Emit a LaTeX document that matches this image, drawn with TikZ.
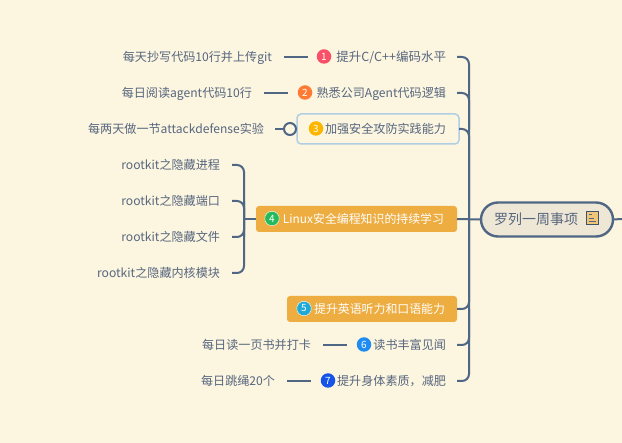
\documentclass[tikz,border=0pt]{standalone}
\usepackage{fontspec}
\setmainfont{Noto Sans CJK SC}
\definecolor{pagebg}{HTML}{FCF5E0}
\definecolor{inkblue}{HTML}{56667E}
\definecolor{linkblue}{HTML}{4F6785}
\definecolor{boxorange}{HTML}{EDAD40}
\definecolor{mainfill}{HTML}{EFE7D6}
\definecolor{frameblue}{HTML}{B0CFE4}
\definecolor{badgeone}{HTML}{F9506A}
\definecolor{badgetwo}{HTML}{FF7A33}
\definecolor{badgethree}{HTML}{FDB600}
\definecolor{badgefour}{HTML}{25BB5C}
\definecolor{badgefive}{HTML}{1EAAD8}
\definecolor{badgesix}{HTML}{1E8CF0}
\definecolor{badgeseven}{HTML}{1455E8}
\tikzset{
    leaf/.style={anchor=east,inner xsep=12pt,inner ysep=0pt,outer sep=0pt,minimum height=18pt,
        text height=10.5pt,text depth=1.5pt,text=inkblue,font=\fontsize{12.1}{15}\selectfont},
    topic/.style={leaf,inner xsep=11pt,align=right},
    filled/.style={topic,fill=boxorange,rounded corners=3pt,minimum height=26pt,text=white},
    badge/.style={circle,inner sep=0pt,outer sep=0pt,minimum size=14.5pt,text=white,
        font=\fontsize{10}{12}\selectfont},
    link/.style={draw=linkblue,line width=2pt,rounded corners=7pt},
}
\begin{document}
\begin{tikzpicture}[x=1pt,y=-1pt]
    \useasboundingbox (0,0) rectangle (622,443);
    \fill[pagebg] (0,0) rectangle (622,443);

    % central topic
    \node[draw=linkblue,line width=2.4pt,fill=mainfill,rounded corners=17pt,
        minimum height=34pt,inner xsep=13pt,inner ysep=0pt,outer sep=0pt,text width=106pt,
        align=left,text=inkblue,font=\fontsize{14}{16}\selectfont]
        (main) at (547,219.5) {罗列一周事项};
    \coordinate (rightEnd) at (622,219);
    \draw[draw=linkblue,line width=2pt] (main.east) -- (rightEnd);
    \draw[draw=linkblue!80!black,line width=1pt,fill=boxorange!70!white]
        (586,211.5) rectangle (598,225);
    \draw[draw=inkblue,line width=1pt] (588.5,215) -- (592,215);
    \draw[draw=inkblue,line width=1pt] (588.5,218.5) -- (594,218.5);
    \draw[draw=inkblue,line width=1pt] (588.5,222) -- (596,222);

    % topics
    \node[topic,text width=127pt,font=\fontsize{12.5}{15}\selectfont] (topicA) at (457,57) {提升C/C++编码水平};
    \node[topic,text width=147pt] (topicB) at (457,93) {熟悉公司Agent代码逻辑};
    \node[topic,draw=frameblue,line width=1.5pt,fill=pagebg,rounded corners=4pt,
        minimum height=30pt,inner xsep=13pt,text width=136pt] (topicC) at (459,129) {加强安全攻防实践能力};
    \node[filled,inner xsep=13pt,text width=175pt,font=\fontsize{11.9}{15}\selectfont] (topicD) at (457,219) {Linux安全编程知识的持续学习};
    \node[filled,inner xsep=12pt,text width=146pt,font=\fontsize{11.9}{15}\selectfont] (topicE) at (457,309) {提升英语听力和口语能力};
    \node[topic,text width=88pt] (topicF) at (457,345) {读书丰富见闻};
    \node[topic,text width=124pt] (topicG) at (457,381) {提升身体素质，减肥};

    % badges
    \node[badge,fill=badgeone] (badgeA) at (324,56.5) {1};
    \node[badge,fill=badgetwo] (badgeB) at (305,92.5) {2};
    \node[badge,fill=badgethree] (badgeC) at (316,128.5) {3};
    \node[badge,draw=white,fill=badgefour] (badgeD) at (272,218.5) {4};
    \node[badge,draw=white,fill=badgefive] (badgeE) at (304,308.5) {5};
    \node[badge,fill=badgesix] (badgeF) at (364,344.5) {6};
    \node[badge,fill=badgeseven] (badgeG) at (328,380.5) {7};

    % leaves
    \node[leaf] (leafA) at (284,57) {每天抄写代码10行并上传git};
    \node[leaf] (leafB) at (264,93) {每日阅读agent代码10行};
    \node[leaf,inner xsep=11pt] (leafC) at (275,129) {每两天做一节attackdefense实验};
    \node[leaf] (leafD) at (232,165) {rootkit之隐藏进程};
    \node[leaf] (leafE) at (232,201) {rootkit之隐藏端口};
    \node[leaf] (leafF) at (232,237) {rootkit之隐藏文件};
    \node[leaf] (leafG) at (232,273) {rootkit之隐藏内核模块};
    \node[leaf] (leafH) at (323,345) {每日读一页书并打卡};
    \node[leaf] (leafI) at (287,381) {每日跳绳20个};

    % right spine
    \coordinate (spineA) at (469,57);
    \coordinate (spineB) at (469,93);
    \coordinate (spineC) at (469,129);
    \coordinate (spineD) at (469,219);
    \coordinate (spineE) at (469,309);
    \coordinate (spineF) at (469,345);
    \coordinate (spineG) at (469,381);
    \draw[link] (topicA.east) -- (spineA) -- (spineG) -- (topicG.east);
    \draw[link] (topicB.east) -- (spineB) -- (spineC);
    \draw[link] (topicC.east) -- (spineC) -- (spineD);
    \draw[link] (topicE.east) -- (spineE) -- (spineD);
    \draw[link] (topicF.east) -- (spineF) -- (spineE);
    \draw[link] (main.west) -- (topicD.east);

    % left bracket
    \coordinate (braceD) at (244,165);
    \coordinate (braceE) at (244,201);
    \coordinate (braceM) at (244,219);
    \coordinate (braceF) at (244,237);
    \coordinate (braceG) at (244,273);
    \draw[link] (leafD.east) -- (braceD) -- (braceG) -- (leafG.east);
    \draw[link] (leafE.east) -- (braceE) -- (braceF);
    \draw[link] (leafF.east) -- (braceF) -- (braceE);
    \draw[link] (topicD.west) -- (braceM);

    % leaf links
    \draw[link] (leafA.east) -- (topicA.west);
    \draw[link] (leafB.east) -- (topicB.west);
    \node[circle,draw=linkblue,line width=2pt,fill=pagebg,inner sep=0pt,outer sep=0pt,minimum size=12pt]
        (foldC) at (290,129) {};
    \draw[link] (leafC.east) -- (foldC.west);
    \draw[link] (foldC.east) -- (topicC.west);
    \draw[link] (leafH.east) -- (topicF.west);
    \draw[link] (leafI.east) -- (topicG.west);
\end{tikzpicture}
\end{document}
